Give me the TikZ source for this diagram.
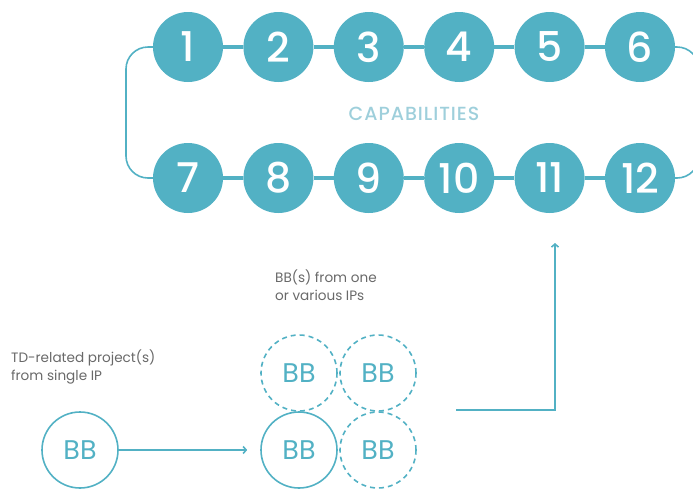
\documentclass[tikz,border=0pt]{standalone}
\usepackage{fontspec}
\setmainfont{Poppins}
\newfontfamily\medfont{Poppins Medium}
\usepackage{xcolor}
\usetikzlibrary{positioning,arrows.meta}
\definecolor{bbteal}{RGB}{82,177,196}
\definecolor{captext}{RGB}{158,207,219}
\definecolor{notegray}{RGB}{105,105,105}

\begin{document}
\begin{tikzpicture}[x=1pt, y=-1pt,
    capnode/.style={circle, fill=bbteal, minimum size=70pt, inner sep=0pt, text=white, font=\medfont\fontsize{41}{41}\selectfont},
    bbnode/.style={circle, draw=bbteal, line width=1.6pt, minimum size=76pt, inner sep=0pt, text=bbteal, font=\fontsize{27}{27}\selectfont},
    bbdash/.style={bbnode, dash pattern=on 5pt off 4pt},
    link/.style={bbteal, line width=4.5pt},
    loop/.style={bbteal, line width=1.6pt, rounded corners=22pt},
    flow/.style={bbteal, line width=1.6pt, -{Straight Barb[length=3pt,width=7pt]}},
    note/.style={text=notegray, align=left, anchor=north west, inner sep=0pt, font=\fontsize{13.6}{18}\selectfont}]
    \useasboundingbox (0,0) rectangle (693,491);

    % Capabilities
    \node[capnode] (c1) at (188,47) {1};
    \node[capnode] (c7) at (188,178) {7};
    \foreach \i in {2,...,6} {
        \pgfmathtruncatemacro\j{\i-1}
        \pgfmathtruncatemacro\k{\i+6}
        \pgfmathtruncatemacro\l{\i+5}
        \node[capnode, right=20pt of c\j] (c\i) {\i};
        \node[capnode, right=20pt of c\l] (c\k) {\k};
        \draw[link] (c\j) -- (c\i);
        \draw[link] (c\l) -- (c\k);
    }
    \draw[loop] (c1.west) -- (126,47) -- (126,178) -- (c7.west);
    \draw[loop] (c6.east) -- (699,47) -- (699,178) -- (c12.east);
    \node[text=captext, font=\medfont\fontsize{19}{19}\selectfont\addfontfeature{LetterSpace=5}] (caps) at (414,114) {CAPABILITIES};

    % Building blocks
    \node[note] (single) at (11,350) {TD-related project(s)\\from single IP};
    \node[bbnode] (in) at (80,450) {BB};
    \node[note] (various) at (275,270) {BB(s) from one\\or various IPs};
    \node[bbnode] (b1) at (299,450) {BB};
    \node[bbdash] (b2) at (299,373) {BB};
    \node[bbdash] (b3) at (378,373) {BB};
    \node[bbdash] (b4) at (378,450) {BB};

    \draw[flow, shorten >=13pt] (in) -- (b1);
    \coordinate (start) at (456,410);
    \coordinate (goal) at (555,243);
    \draw[flow] (start) -| (goal);
\end{tikzpicture}
\end{document}
